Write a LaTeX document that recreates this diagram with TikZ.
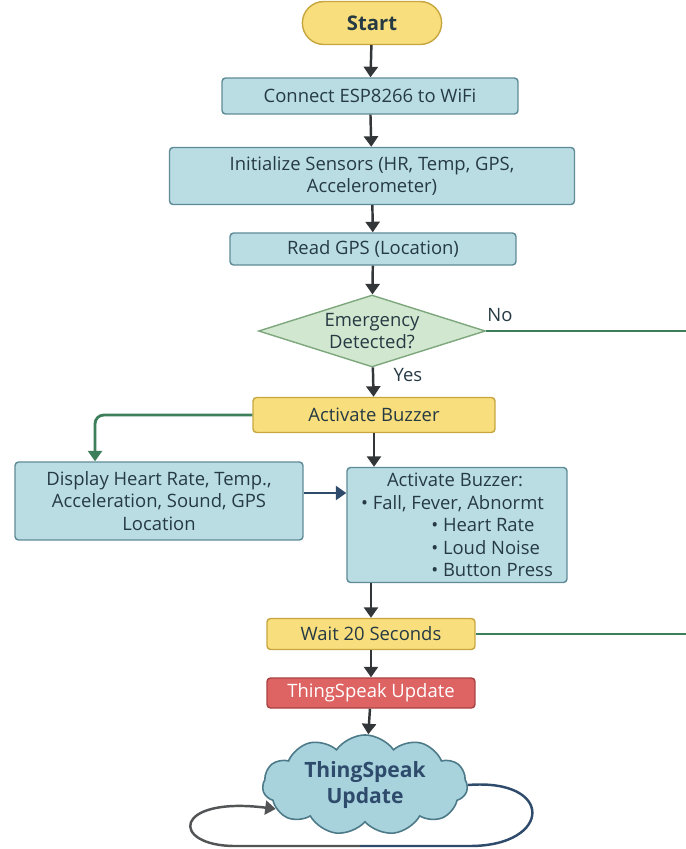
\documentclass[tikz,border=0pt]{standalone}
\usepackage{fontspec}
\setmainfont{Open Sans}
\usetikzlibrary{arrows.meta}
\usetikzlibrary{shapes.geometric}
\usetikzlibrary{shapes.misc}
\usetikzlibrary{shapes.symbols}

\definecolor{txtdark}{HTML}{263A44}
\definecolor{boxfill}{HTML}{BADDE4}
\definecolor{boxline}{HTML}{5E8B96}
\definecolor{yelfill}{HTML}{F8DE7C}
\definecolor{yelline}{HTML}{C7A640}
\definecolor{decfill}{HTML}{D2E7CF}
\definecolor{decline}{HTML}{7EA77E}
\definecolor{redfill}{HTML}{DE6464}
\definecolor{redline}{HTML}{A84242}
\definecolor{cloudfill}{HTML}{A8D3DD}
\definecolor{cloudline}{HTML}{4D7A88}
\definecolor{arrgray}{HTML}{333638}
\definecolor{arrgreen}{HTML}{3D7E5B}
\definecolor{arrnavy}{HTML}{2E4B6C}

\begin{document}
\begin{tikzpicture}[x=0.02cm,y=-0.02cm,
                    every node/.style={font=\fontsize{10.5}{12.8}\selectfont,text=txtdark},
                    procbox/.style={rectangle,rounded corners=2pt,draw=boxline,fill=boxfill,
                        line width=0.8pt,align=center,inner sep=2pt},
                    yelbox/.style={procbox,draw=yelline,fill=yelfill},
                    arr/.style={draw=arrgray,line width=1.4pt,-{Triangle[width=8pt,length=6pt]}},
                    grnline/.style={draw=arrgreen,line width=1.6pt}]
                    \useasboundingbox (0,0) rectangle (686,849);
                    \node[rounded rectangle,draw=yelline,fill=yelfill,line width=0.8pt,
                        minimum width=3.02cm,minimum height=0.86cm,
                        font=\fontsize{11.5}{13}\selectfont\bfseries] (start) at (372,23) {Start};
                    \node[procbox,minimum width=5.92cm,minimum height=0.72cm] (wifi) at (370,96)
                        {Connect ESP8266 to WiFi};
                    \node[procbox,minimum width=8.1cm,minimum height=1.14cm] (init) at (372,176)
                        {Initialize Sensors (HR, Temp, GPS,\\Accelerometer)};
                    \node[procbox,minimum width=5.72cm,minimum height=0.64cm] (gps) at (373,249)
                        {Read GPS (Location)};
                    \node[diamond,draw=decline,fill=decfill,line width=0.8pt,align=center,
                        inner sep=0pt,aspect=3.15,minimum width=4.54cm,minimum height=1.44cm]
                        (emerg) at (372,331) {Emergency\\Detected?};
                    \node (nolbl) at (500,315) {No};
                    \node (yeslbl) at (408,375) {Yes};
                    \node[yelbox,minimum width=4.84cm,minimum height=0.7cm] (buzz) at (374,415)
                        {Activate Buzzer};
                    \node[procbox,minimum width=5.76cm,minimum height=1.56cm] (disp) at (159,501)
                        {Display Heart Rate, Temp.,\\Acceleration, Sound, GPS\\Location};
                    \node[procbox,minimum width=4.4cm,minimum height=2.3cm,align=left] (alert) at (457,525)
                        {\hspace*{1.4em}Activate Buzzer:\\
                         • Fall, Fever, Abnormt\\
                         \hspace*{3.8em}• Heart Rate\\
                         \hspace*{3.8em}• Loud Noise\\
                         \hspace*{3.8em}• Button Press};
                    \node[yelbox,minimum width=4.16cm,minimum height=0.62cm] (wait) at (371,634)
                        {Wait 20 Seconds};
                    \node[procbox,draw=redline,fill=redfill,text=white,minimum width=4.16cm,
                        minimum height=0.6cm] (tsup) at (371,693) {ThingSpeak Update};
                    \node[cloud,cloud puffs=11,cloud puff arc=110,aspect=2.2,draw=cloudline,
                        fill=cloudfill,line width=0.9pt,align=center,inner sep=0pt,
                        minimum width=4.1cm,minimum height=1.9cm,text=arrnavy,
                        font=\fontsize{12}{15}\selectfont\bfseries] (cloud) at (365,785)
                        {ThingSpeak\\Update};
                    \coordinate (noend) at (686,331);
                    \coordinate (waitend) at (686,634);
                    \coordinate (loopb) at (360,846);
                    \draw[arr] (start) -- (wifi);
                    \draw[arr] (wifi) -- (init);
                    \draw[arr] (init) -- (gps);
                    \draw[arr] (gps) -- (emerg);
                    \draw[arr] (emerg) -- (buzz);
                    \draw[grnline] (emerg.east) -- (noend);
                    \draw[grnline,rounded corners=5pt,-{Triangle[width=8pt,length=6pt]}]
                        (buzz.west) -| ([xshift=-1.28cm]disp.north);
                    \draw[arr,draw=arrnavy] ([yshift=0.16cm]disp.east) -- ([yshift=0.16cm]disp.east -| alert.west);
                    \draw[arr] (buzz.south) -- (buzz.south |- alert.north);
                    \draw[arr] (alert.south -| wait.north) -- (wait.north);
                    \draw[grnline] (wait.east) -- (waitend);
                    \draw[arr] (wait) -- (tsup);
                    \draw[arr] (tsup) -- (cloud);
                    \draw[draw=arrnavy,line width=1.4pt] (cloud.east)
                        .. controls (555,778) and (552,846) .. (470,846) -- (loopb);
                    \draw[arr,draw=arrgray!85] (loopb) -- (235,846)
                        .. controls (170,846) and (172,796) .. (cloud.195);
                \end{tikzpicture}
\end{document}
